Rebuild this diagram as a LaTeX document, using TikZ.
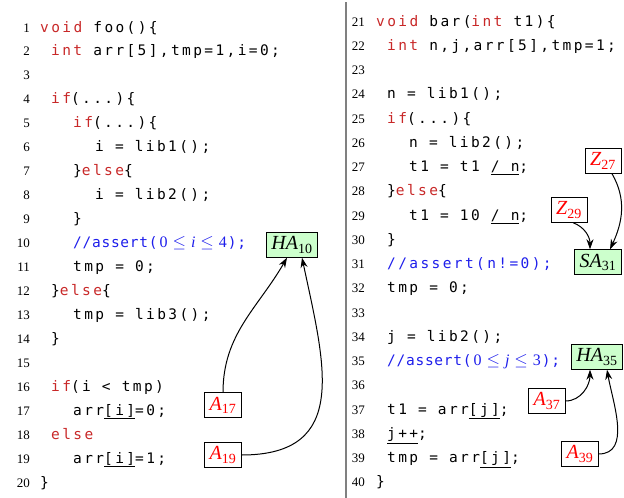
\documentclass[tikz,border=0pt]{standalone}
\usepackage{fontspec}
\setmainfont{Liberation Serif}
\newfontfamily\codefont[LetterSpace=16.5]{DejaVu Sans Mono}
\newfontfamily\commfont[LetterSpace=5]{DejaVu Sans Mono}
\usetikzlibrary{arrows.meta}

\definecolor{kwred}{RGB}{200,40,40}
\definecolor{cmblue}{RGB}{30,30,235}
\definecolor{safegreen}{RGB}{204,255,204}

\newcommand{\kw}[1]{\textcolor{kwred}{#1}}
\newcommand{\cmt}[1]{\textcolor{cmblue}{#1}}
\newcommand{\codesize}{\fontsize{14.5}{14.5}\codefont\fontdimen2\font=11.1pt\fontdimen3\font=0pt\fontdimen4\font=0pt\relax}
\newcommand{\lbl}[2]{#1\textsubscript{\upshape #2}}
\newcommand{\rng}[3]{{\fontsize{16}{16}\rmfamily\hspace{2pt}#1\hspace{5pt}$\le$\hspace{5pt}\textit{#2}\hspace{5pt}$\le$\hspace{5pt}#3\hspace{1pt}}}

\tikzset{
  num/.style={anchor=base east, inner sep=0pt, font=\fontsize{13}{13}\selectfont},
  code/.style={anchor=base west, inner sep=0pt, font=\codesize},
  lab/.style={draw, fill=white, text=red, minimum height=25pt, inner xsep=5pt,
    font=\fontsize{20}{20}\selectfont\itshape},
  safelab/.style={lab, fill=safegreen, text=black},
  dep/.style={-{Stealth[length=10pt,width=7pt]}, line width=1pt}
}

\begin{document}
\begin{tikzpicture}[x=1pt,y=1pt]
  \useasboundingbox (0,0) rectangle (624,-498);
  %% column separator
  \draw[line width=2pt, gray] (346,-2) -- (346,-498);
  %% line numbers
  \foreach \k in {1,...,20}
    \node[num] (n\k) at (30,{-32-23.95*(\k-1)}) {\k};
  \foreach \k in {21,...,40}
    \node[num] (n\k) at (365,{-26-24.26*(\k-21)}) {\k};
  %% foo
  \node[code] (c1)  at (40,0 |- n1.base)  {\kw{void} foo()\{};
  \node[code] (c2)  at (51,0 |- n2.base)  {\kw{int} arr[5],tmp=1,i=0;};
  \node[code] (c4)  at (51,0 |- n4.base)  {\kw{if}(...)\{};
  \node[code] (c5)  at (73,0 |- n5.base)  {\kw{if}(...)\{};
  \node[code] (c6)  at (95,0 |- n6.base)  {i = lib1();};
  \node[code] (c7)  at (73,0 |- n7.base)  {\}\kw{else}\{};
  \node[code] (c8)  at (95,0 |- n8.base)  {i = lib2();};
  \node[code] (c9)  at (73,0 |- n9.base)  {\}};
  \node[code] (c10) at (73,0 |- n10.base) {\cmt{{\commfont //assert(}\rng{0}{i}{4}{\commfont );}}};
  \node[code] (c11) at (73,0 |- n11.base) {tmp = 0;};
  \node[code] (c12) at (51,0 |- n12.base) {\}\kw{else}\{};
  \node[code] (c13) at (73,0 |- n13.base) {tmp = lib3();};
  \node[code] (c14) at (51,0 |- n14.base) {\}};
  \node[code] (c16) at (51,0 |- n16.base) {\kw{if}(i < tmp)};
  \node[code] (c17) at (73,0 |- n17.base) {arr\underline{[i]}=0;};
  \node[code] (c18) at (51,0 |- n18.base) {\kw{else}};
  \node[code] (c19) at (73,0 |- n19.base) {arr\underline{[i]}=1;};
  \node[code] (c20) at (40,0 |- n20.base) {\}};
  %% bar
  \node[code] (c21) at (376,0 |- n21.base) {\kw{void} bar(\kw{int} t1)\{};
  \node[code] (c22) at (387,0 |- n22.base) {\kw{int} n,j,arr[5],tmp=1;};
  \node[code] (c24) at (387,0 |- n24.base) {n = lib1();};
  \node[code] (c25) at (387,0 |- n25.base) {\kw{if}(...)\{};
  \node[code] (c26) at (409,0 |- n26.base) {n = lib2();};
  \node[code] (c27) at (409,0 |- n27.base) {t1 = t1 \underline{/ n};};
  \node[code] (c28) at (387,0 |- n28.base) {\}\kw{else}\{};
  \node[code] (c29) at (409,0 |- n29.base) {t1 = 10 \underline{/ n};};
  \node[code] (c30) at (387,0 |- n30.base) {\}};
  \node[code] (c31) at (387,0 |- n31.base) {\cmt{//assert(n!=0);}};
  \node[code] (c32) at (387,0 |- n32.base) {tmp = 0;};
  \node[code] (c34) at (387,0 |- n34.base) {j = lib2();};
  \node[code] (c35) at (387,0 |- n35.base) {\cmt{{\commfont //assert(}\rng{0}{j}{3}{\commfont );}}};
  \node[code] (c37) at (387,0 |- n37.base) {t1 = arr\underline{[j]};};
  \node[code] (c38) at (387,0 |- n38.base) {\underline{j++};};
  \node[code] (c39) at (387,0 |- n39.base) {tmp = arr\underline{[j]};};
  \node[code] (c40) at (376,0 |- n40.base) {\}};
  %% annotations
  \node[safelab] (ha10) at (292,-245) {\lbl{HA}{10}};
  \node[lab] (a17) at (223,-405) {\lbl{A}{17}};
  \node[lab] (a19) at (223,-455) {\lbl{A}{19}};
  \node[lab] (z27) at (603,-161) {\lbl{Z}{27}};
  \node[lab] (z29) at (569,-210) {\lbl{Z}{29}};
  \node[safelab] (sa31) at (598,-262) {\lbl{SA}{31}};
  \node[safelab] (ha35) at (597,-357) {\lbl{HA}{35}};
  \node[lab] (a37) at (547,-401) {\lbl{A}{37}};
  \node[lab] (a39) at (580,-454) {\lbl{A}{39}};
  %% dependencies
  \draw[dep] (a17.north) to[out=90,in=-120] ([xshift=-5pt]ha10.south);
  \draw[dep] (a19.east) to[out=0,in=-78,looseness=1.35] ([xshift=10pt]ha10.south);
  \draw[dep] ([xshift=9pt]z27.south) to[out=-60,in=65] ([xshift=12pt]sa31.north);
  \draw[dep] ([xshift=4pt]z29.south) to[out=-20,in=90] ([xshift=-8pt]sa31.north);
  \draw[dep] (a37.east) to[out=0,in=-90] ([xshift=-7pt]ha35.south);
  \draw[dep] (a39.east) to[out=0,in=-80] ([xshift=10pt]ha35.south);
\end{tikzpicture}
\end{document}
